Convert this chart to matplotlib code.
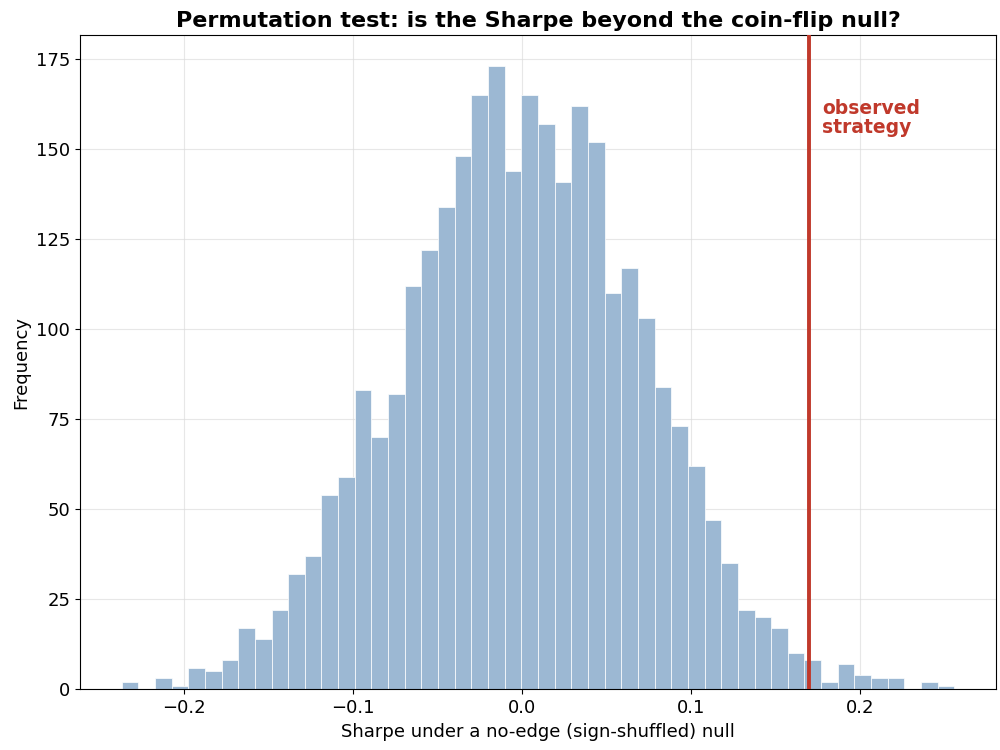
import numpy as np
import matplotlib
matplotlib.use("Agg")
import matplotlib.pyplot as plt

# Histogram of sign-shuffled Sharpe ratios (50 bins, counts)
bin_lo = -0.237
bin_hi = 0.256
counts = [2, 0, 3, 1, 6, 5, 8, 17, 14, 22,
          32, 37, 54, 59, 83, 70, 82, 112, 122, 134,
          148, 165, 173, 144, 165, 157, 141, 162, 152, 110,
          117, 103, 84, 73, 62, 47, 35, 22, 20, 17,
          10, 8, 2, 7, 4, 3, 3, 0, 2, 1]
observed_sharpe = 0.170

edges = np.linspace(bin_lo, bin_hi, len(counts) + 1)

fig, ax = plt.subplots(figsize=(10, 7.5), dpi=100)
fig.subplots_adjust(left=0.08, right=0.996, bottom=0.081, top=0.953)

ax.bar(edges[:-1], counts, width=np.diff(edges), align='edge',
       color='#9cb8d3', edgecolor='white', linewidth=0.5, zorder=2)
ax.axvline(observed_sharpe, color='#c0392b', linewidth=2.8, zorder=3)
ax.text(observed_sharpe + 0.0075, 164, 'observed\nstrategy', color='#c0392b',
        fontsize=13.5, fontweight='bold', va='top', ha='left', linespacing=1.0)

ax.set_title('Permutation test: is the Sharpe beyond the coin-flip null?',
             fontsize=16, fontweight='bold')
ax.set_xlabel('Sharpe under a no-edge (sign-shuffled) null', fontsize=13)
ax.set_ylabel('Frequency', fontsize=13)
ax.tick_params(labelsize=13)
ax.grid(True, color='#dddddd', alpha=0.7, linewidth=0.8, zorder=0)
ax.set_axisbelow(True)

plt.savefig('out.png', dpi=100)
